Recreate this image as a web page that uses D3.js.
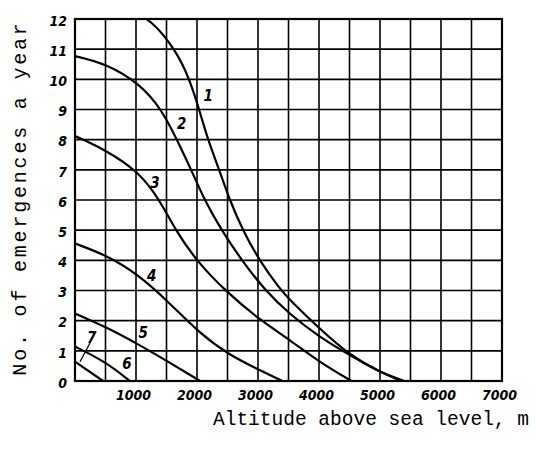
<!DOCTYPE html>
<html>
<head>
<meta charset="utf-8">
<script src="https://cdn.jsdelivr.net/npm/d3@7"></script>
<style>
  body { margin: 0; background: #fff; }
</style>
</head>
<body>
<div class="chart"></div>
<script>
// altitude (m) / emergences per year
var altGrid = [0, 500, 1000, 1500, 2000, 2500, 3000, 3500, 4000, 4500, 5000, 5500, 6000, 6500, 7000];
var altLabels = [1000, 2000, 3000, 4000, 5000, 6000, 7000];
var countTicks = [0, 1, 2, 3, 4, 5, 6, 7, 8, 9, 10, 11, 12];

var curve1 = [[1000, 12.15], [1230, 12], [1646, 11], [1880, 10], [2036, 9], [2178, 8], [2365, 7], [2535, 6],
              [2750, 5], [3020, 4], [3360, 3.05], [3525, 2.68], [4000, 1.75], [4500, 0.86], [5000, 0.28], [5400, 0]];
var curve2 = [[0, 10.77], [500, 10.53], [1066, 9.85], [1420, 9], [1672, 8], [1906, 7], [2122, 6], [2400, 5],
              [2733, 4], [3117, 3], [3525, 2.2], [4000, 1.47], [4500, 0.86], [5000, 0.3], [5350, 0]];
var curve3 = [[0, 8.12], [500, 7.66], [1040, 6.95], [1390, 6], [1646, 5], [1985, 4], [2456, 3], [3030, 2.02],
              [3525, 1.36], [4000, 0.64], [4530, 0]];
var curve4 = [[0, 4.56], [500, 4.18], [1010, 3.57], [1530, 2.63], [2040, 1.58], [2530, 0.86], [3030, 0.36], [3400, 0]];
var curve5 = [[0, 2.24], [500, 1.8], [1010, 1.25], [1530, 0.64], [2050, 0]];
var curve6 = [[0, 1.14], [500, 0.64], [900, 0]];
var curve7 = [[0, 0.64], [460, 0]];

var curveNames = ["1", "2", "3", "4", "5", "6", "7"];
var labelAlt = [2185, 1750, 1310, 1257, 1120, 852, 273];
var labelCount = [9.48, 8.54, 6.6, 3.51, 1.63, 0.6, 1.47];
var leader7 = [[246, 1.26], [82, 0.64]];

var curves = [curve1, curve2, curve3, curve4, curve5, curve6, curve7];

var margin = {top: 19, right: 34, bottom: 68, left: 75},
    width = 536 - margin.left - margin.right,
    height = 449 - margin.top - margin.bottom;

var svg = d3.select(".chart")
    .append("svg")
        .attr("width", 536)
        .attr("height", 449)
    .append("g")
        .attr("transform", "translate(" + margin.left + "," + margin.top + ")");

var x = d3.scaleLinear().domain([0, 7000]).range([0, width]);
var y = d3.scaleLinear().domain([0, 12]).range([height, 0]);

var numFont = "'DejaVu Sans Condensed', 'DejaVu Sans', sans-serif";

// clip for curves
svg.append("clipPath").attr("id", "plot")
    .append("rect").attr("width", width).attr("height", height);

// grid
svg.selectAll(".vgrid").data(altGrid).enter().append("line")
    .attr("x1", function(d) { return x(d); })
    .attr("x2", function(d) { return x(d); })
    .attr("y1", 0).attr("y2", height)
    .attr("stroke", "#000").attr("stroke-width", 1.6);
svg.selectAll(".hgrid").data(countTicks).enter().append("line")
    .attr("x1", 0).attr("x2", width)
    .attr("y1", function(d) { return y(d); })
    .attr("y2", function(d) { return y(d); })
    .attr("stroke", "#000").attr("stroke-width", 1.6);
svg.append("rect")
    .attr("width", width).attr("height", height)
    .attr("fill", "none").attr("stroke", "#000").attr("stroke-width", 2.2);

// axes labels
var xAxis = svg.append("g")
    .attr("transform", "translate(0," + height + ")")
    .call(d3.axisBottom(x).tickValues(altLabels).tickFormat(d3.format("d")).tickSize(0).tickPadding(9));
var yAxis = svg.append("g")
    .call(d3.axisLeft(y).tickValues(countTicks).tickSize(0).tickPadding(8));
[xAxis, yAxis].forEach(function(a) {
    a.select(".domain").remove();
    a.selectAll("text")
        .attr("fill", "#000")
        .style("font-family", numFont)
        .style("font-style", "italic")
        .style("font-weight", "bold")
        .style("font-size", "14px");
});
xAxis.selectAll("text").attr("dx", "-3");
yAxis.selectAll("text").attr("dy", "0.45em");

// curves
var line = d3.line()
    .x(function(d) { return x(d[0]); })
    .y(function(d) { return y(d[1]); })
    .curve(d3.curveBasis);

svg.append("g").attr("clip-path", "url(#plot)")
    .selectAll("path").data(curves).enter().append("path")
    .attr("fill", "none")
    .attr("stroke", "#000")
    .attr("stroke-width", 2.2)
    .attr("d", line);

// curve numbers
svg.selectAll(".clabel").data(curveNames).enter().append("text")
    .attr("x", function(d, i) { return x(labelAlt[i]); })
    .attr("y", function(d, i) { return y(labelCount[i]); })
    .attr("text-anchor", "middle")
    .attr("dy", "0.4em")
    .style("font-family", numFont)
    .style("font-style", "italic")
    .style("font-weight", "bold")
    .style("font-size", "15px")
    .text(function(d) { return d; });

svg.append("path")
    .attr("d", d3.line().x(function(d) { return x(d[0]); }).y(function(d) { return y(d[1]); })(leader7))
    .attr("stroke", "#000").attr("stroke-width", 1.3);

// titles
svg.append("text")
    .attr("transform", "rotate(-90)")
    .attr("x", -(198 - margin.top))
    .attr("y", 19 - margin.left)
    .attr("dy", "0.35em")
    .attr("text-anchor", "middle")
    .style("font-family", "'Liberation Mono', 'DejaVu Sans Mono', monospace")
    .style("font-size", "20px")
    .style("letter-spacing", "2.8px")
    .text("No. of emergences a year");

svg.append("text")
    .attr("x", 371 - margin.left)
    .attr("y", 425 - margin.top)
    .attr("text-anchor", "middle")
    .style("font-family", "'Liberation Mono', 'DejaVu Sans Mono', monospace")
    .style("font-size", "19.5px")
    .text("Altitude above sea level, m");
</script>
</body>
</html>
